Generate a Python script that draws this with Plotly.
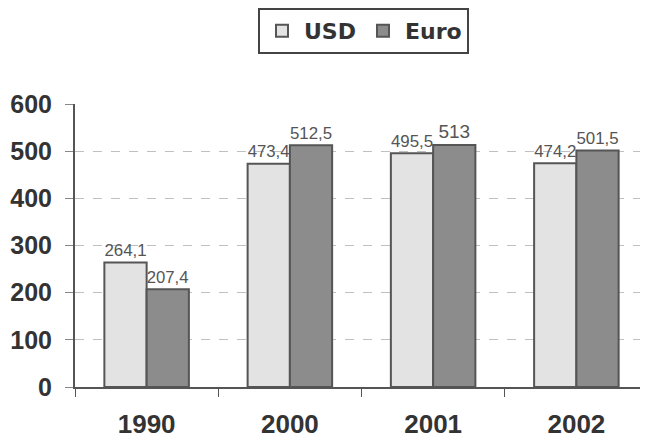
import plotly.graph_objects as go

years = ["1990", "2000", "2001", "2002"]
usd = [264.1, 473.4, 495.5, 474.2]
euro = [207.4, 512.5, 513, 501.5]
y_ticks = [0, 100, 200, 300, 400, 500, 600]

def lab(vals):
    return [f"{v:g}".replace(".", ",") for v in vals]

FONT = "Liberation Sans"
WIDE = "DejaVu Sans"
fig = go.Figure()
fig.add_trace(go.Bar(
    x=years, y=usd, name="USD", text=lab(usd), textposition="outside",
    marker=dict(color="#e3e3e3", line=dict(color="#555555", width=2)),
    textfont=dict(family=FONT, size=19, color="#555555"), cliponaxis=False,
))
fig.add_trace(go.Bar(
    x=years, y=euro, name="Euro", text=lab(euro), textposition="outside",
    marker=dict(color="#8c8c8c", line=dict(color="#555555", width=2)),
    textfont=dict(family=FONT, size=19, color="#555555"), cliponaxis=False,
))
fig.update_layout(
    width=640, height=434,
    margin=dict(l=67, r=0, t=96, b=55),
    paper_bgcolor="white", plot_bgcolor="white",
    barmode="group", bargap=0.41, bargroupgap=0,
    showlegend=True,
    legend=dict(orientation="h", x=0.5035, xanchor="center", y=1.339, yanchor="top",
                bordercolor="#444444", borderwidth=2, bgcolor="white",
                font=dict(family=WIDE, size=22, color="#333333", weight="bold"),
                itemwidth=34, traceorder="normal"),
    xaxis=dict(type="category", showgrid=False, showline=True, linecolor="#555555", linewidth=2,
               ticks="outside", tickson="boundaries", ticklen=8, tickcolor="#555555",
               tickfont=dict(family=FONT, size=26, color="#333333", weight="bold"),
               ticklabelstandoff=13, automargin=False),
    yaxis=dict(range=[0, 600], tickvals=y_ticks, showgrid=True, gridcolor="#c0c0c0",
               griddash="dash", gridwidth=1, showline=True, linecolor="#555555", linewidth=2,
               ticks="outside", ticklen=8, tickcolor="#888888", zeroline=False,
               tickfont=dict(family=FONT, size=25, color="#333333", weight="bold"),
               ticklabelstandoff=8, automargin=False),
)
fig.write_html("out.html")
